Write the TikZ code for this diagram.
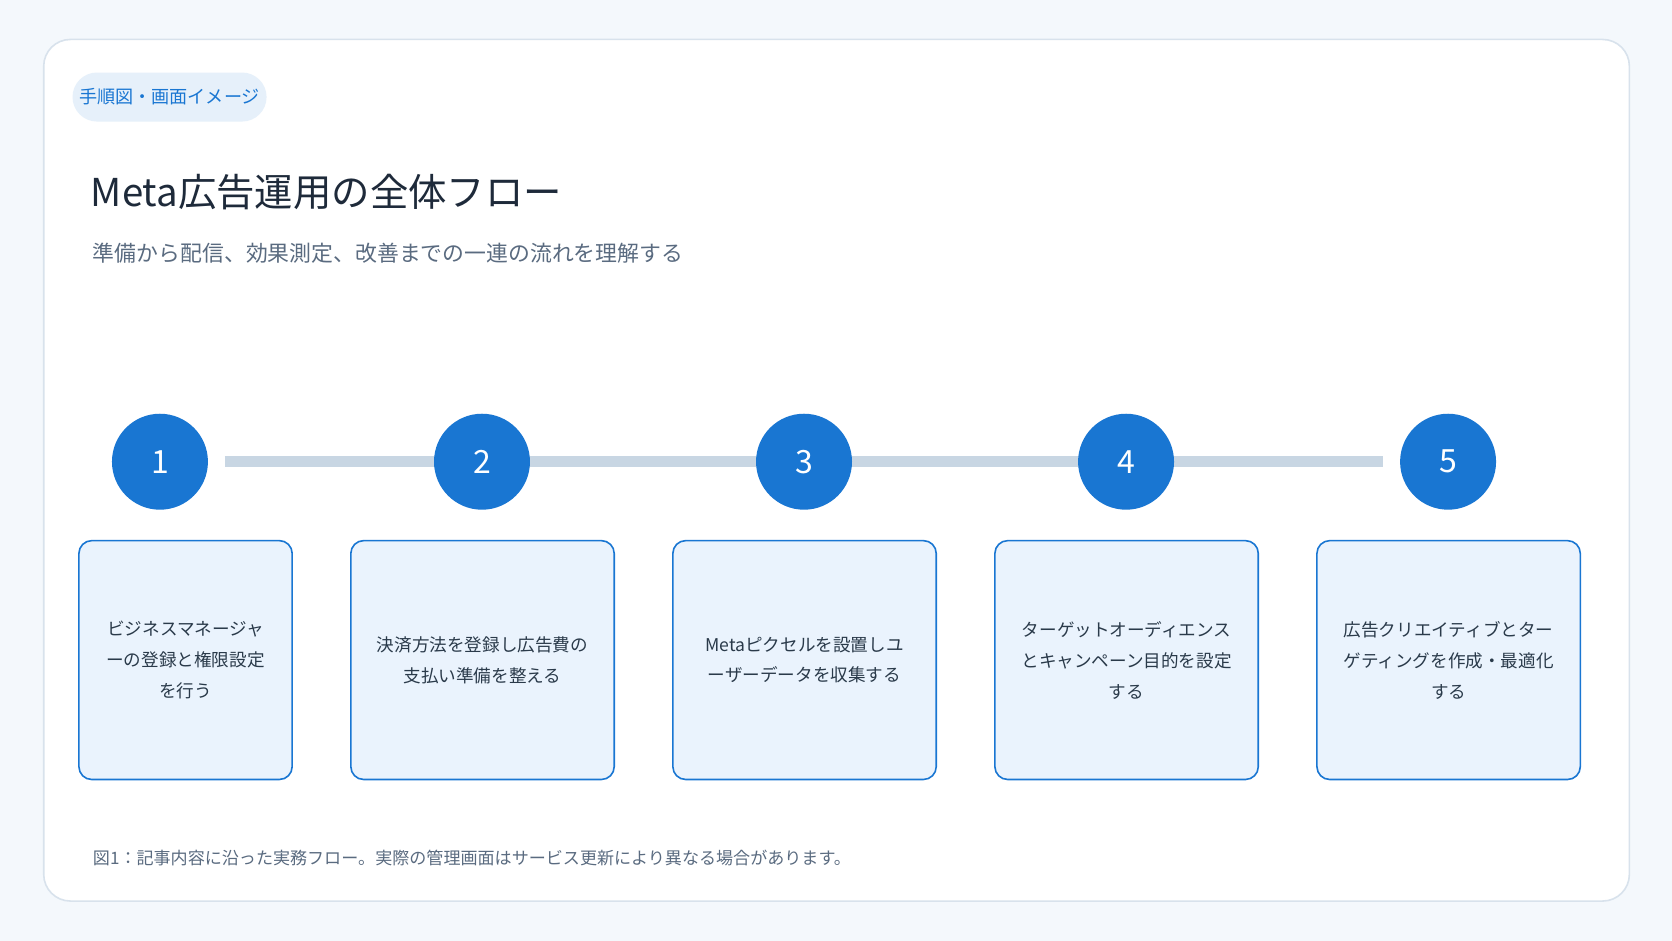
\documentclass[tikz,border=0pt]{standalone}
\usepackage{fontspec}
\setmainfont{Noto Sans CJK JP}
\definecolor{bg}{HTML}{F4F8FC}
\definecolor{cardline}{HTML}{D8E2EC}
\definecolor{blue}{HTML}{1976D2}
\definecolor{pill}{HTML}{E6F0FA}
\definecolor{boxfill}{HTML}{EAF3FD}
\definecolor{track}{HTML}{C8D6E3}
\definecolor{titlec}{HTML}{1E2A3A}
\definecolor{subc}{HTML}{5A6B80}
\definecolor{textc}{HTML}{2A3A4A}
\begin{document}
\begin{tikzpicture}[x=1pt,y=-1pt,
  stepdot/.style={circle,fill=blue,minimum size=90pt,inner sep=0pt,text=white,font=\fontsize{30}{30}\selectfont},
  box/.style={draw=blue,line width=1.5pt,fill=boxfill,rounded corners=12pt,minimum height=224pt,inner sep=0pt,align=center,text=textc,font=\fontsize{16.5}{29}\selectfont}]
\fill[bg] (0,0) rectangle (1568,882);
\useasboundingbox (0,0) rectangle (1568,882);
\draw[cardline,fill=white,line width=1.5pt,rounded corners=25pt] (41,37) rectangle (1528,845);
\node[fill=pill,rounded corners=23pt,minimum width=182pt,minimum height=46pt,text=blue,font=\fontsize{17}{17}\selectfont,inner sep=0pt] (tag) at (159,91) {手順図・画面イメージ};
\node[anchor=west,text=titlec,font=\fontsize{36}{36}\selectfont,inner sep=0pt] (title) at (85,180) {Meta広告運用の全体フロー};
\node[anchor=west,text=subc,font=\fontsize{20.5}{20.5}\selectfont,inner sep=0pt] (sub) at (87,237) {準備から配信、効果測定、改善までの一連の流れを理解する};
\coordinate (ls) at (211,433); \coordinate (le) at (1297,433);
\draw[track,line width=10pt] (ls) -- (le);
\foreach \i/\x in {1/150,2/452,3/754,4/1056,5/1358}{\node[stepdot] (c\i) at (\x,433) {\i};}
\node[box,minimum width=200pt] (b1) at (174,619) {ビジネスマネージャ\\ーの登録と権限設定\\を行う};
\node[box,minimum width=247pt] (b2) at (452.5,619) {決済方法を登録し広告費の\\支払い準備を整える};
\node[box,minimum width=247pt] (b3) at (754.5,619) {Metaピクセルを設置しユ\\ーザーデータを収集する};
\node[box,minimum width=247pt] (b4) at (1056.5,619) {ターゲットオーディエンス\\とキャンペーン目的を設定\\する};
\node[box,minimum width=247pt] (b5) at (1358.5,619) {広告クリエイティブとター\\ゲティングを作成・最適化\\する};
\node[anchor=west,text=subc,font=\fontsize{16}{16}\selectfont,inner sep=0pt] (cap) at (87,805) {図1：記事内容に沿った実務フロー。実際の管理画面はサービス更新により異なる場合があります。};
\end{tikzpicture}
\end{document}
